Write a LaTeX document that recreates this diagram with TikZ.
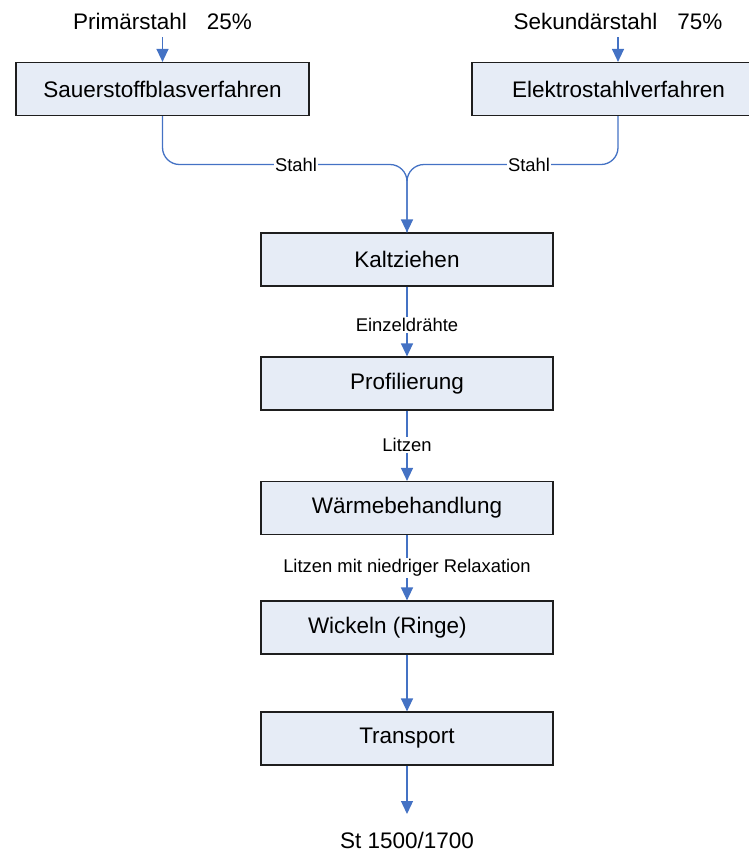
\documentclass[tikz,border=0pt]{standalone}
\usepackage{fontspec}
\setmainfont{Liberation Sans}
\usetikzlibrary{arrows.meta}
\definecolor{boxfill}{RGB}{230,236,246}
\definecolor{flowblue}{RGB}{68,114,196}
\definecolor{boxline}{RGB}{30,30,30}
\tikzset{
  stepbox/.style={draw=boxline, line width=1.2pt, fill=boxfill, minimum width=292pt, minimum height=53pt, inner sep=0pt, font=\fontsize{22.5}{26}\selectfont},
  flow/.style={draw=flowblue, line width=1.3pt, -{Triangle[length=13pt,width=12pt]}},
  flowline/.style={draw=flowblue, line width=1.3pt},
  lbl/.style={fill=white, inner sep=1pt, font=\fontsize{18.4}{22}\selectfont},
  toplbl/.style={inner sep=0pt, font=\fontsize{22.5}{26}\selectfont}
}
\begin{document}
\begin{tikzpicture}[x=1pt,y=-1pt]
\useasboundingbox (0,0) rectangle (749,852);
\clip (0,0) rectangle (749,852);
% boxes
\node[stepbox, minimum width=293pt] (sauer) at (162.5,89) {Sauerstoffblasverfahren};
\node[stepbox, minimum width=293pt] (elek) at (618.5,89) {Elektrostahlverfahren};
\node[stepbox] (kalt) at (407,259.5) {Kaltziehen};
\node[stepbox] (prof) at (407,383.5) {Profilierung};
\node[stepbox] (waerm) at (407,508) {Wärmebehandlung};
\node[stepbox] (wick) at (407,627.5) {\makebox[198pt][l]{Wickeln (Ringe)}};
\node[stepbox] (trans) at (407,738.5) {Transport};
% top and bottom texts
\node[toplbl] (prim) at (162.5,21) {Primärstahl\hspace{20pt}25\%};
\node[toplbl] (sek) at (618,21) {Sekundärstahl\hspace{20pt}75\%};
\node[toplbl, anchor=base] (st) at (407,848) {St 1500/1700};
\coordinate (pstart) at (162.5,37);
\coordinate (sstart) at (618,37);
\coordinate (join) at (407,164.5);
\coordinate (stend) at (407,814);
% connectors
\draw[flow] (pstart) -- (sauer.north);
\draw[flow] (sstart) -- (sstart |- elek.north);
\draw[flowline, rounded corners=17pt] (sauer.south) |- (join) -- (kalt.north);
\draw[flow, rounded corners=17pt] (sstart |- elek.south) |- (join) -- (kalt.north);
\draw[flow] (kalt.south) -- (prof.north);
\draw[flow] (prof.south) -- (waerm.north);
\draw[flow] (waerm.south) -- (wick.north);
\draw[flow] (wick.south) -- (trans.north);
\draw[flow] (trans.south) -- (stend);
% labels on connectors
\node[lbl] (l1) at (296,164.5) {Stahl};
\node[lbl] (l2) at (529,164.5) {Stahl};
\node[lbl] (l3) at (407,325) {Einzeldrähte};
\node[lbl] (l4) at (407,445) {Litzen};
\node[lbl] (l5) at (407,568) {Litzen mit niedriger Relaxation};
\end{tikzpicture}
\end{document}
